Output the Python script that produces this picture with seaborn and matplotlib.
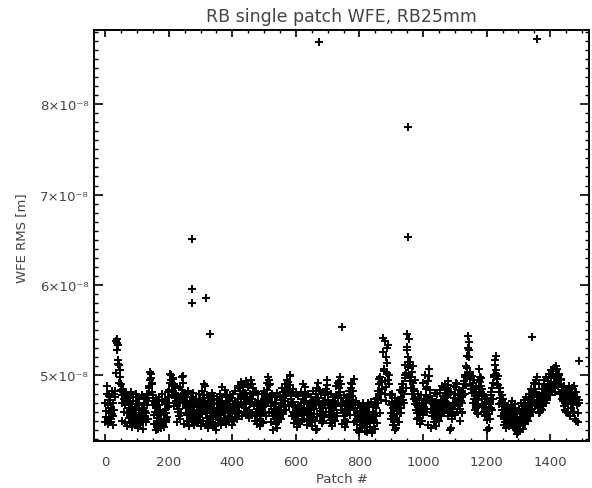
import numpy as np
import pandas as pd
import matplotlib
matplotlib.use("Agg")
import matplotlib.pyplot as plt
import seaborn as sns
from matplotlib.ticker import FixedLocator, MultipleLocator

# ---------------- data (WFE RMS in units of 1e-8 m) ----------------
# main sequence: every 2nd patch, one list per ~100 patches
seg_starts = [0, 94, 192, 291, 389, 488, 586, 685, 783, 882, 980, 1079, 1177, 1276, 1374, 1473]

seg00 = [4.70,4.54,4.61,4.88,4.67,4.50,4.59,4.73,4.52,4.64,4.48,4.57,4.69,4.55,4.62,4.76,4.83,5.03,5.36,5.40,
         5.34,5.17,5.11,5.06,4.98,4.90,4.78,4.70,4.82,4.74,4.60,4.78,4.67,4.81,4.72,4.59,4.75,4.64,4.53,4.70,
         4.58,4.49,4.65,4.56,4.72,4.51,4.62,4.55,4.68,4.50]
seg01 = [4.64,4.52,4.59,4.47,4.67,4.55,4.50,4.62,4.45,4.57,4.53,4.64,4.48,4.59,4.70,4.54,4.61,4.74,4.58,4.67,
         4.80,4.72,4.86,4.95,5.04,4.97,4.91,4.82,4.75,4.67,4.56,4.70,4.60,4.46,4.64,4.53,4.41,4.58,4.67,4.51,
         4.62,4.56,4.72,4.49,4.60,4.43,4.57,4.68,4.52,4.63]
seg02 = [4.59,4.70,4.54,4.65,4.76,4.84,4.92,5.00,4.95,4.89,4.97,4.83,4.91,4.78,4.86,4.72,4.80,4.67,4.60,4.74,
         4.63,4.52,4.69,4.58,4.75,4.84,4.92,4.99,4.81,4.70,4.77,4.64,4.56,4.71,4.59,4.67,4.50,4.61,4.72,4.55,
         4.66,4.58,4.74,4.62,4.53,4.68,4.59,4.48,4.65,4.56]
seg03 = [4.67,4.54,4.62,4.73,4.51,4.60,4.69,4.57,4.75,4.64,4.78,4.88,4.70,4.59,4.66,4.53,4.62,4.72,4.49,4.58,
         4.67,4.55,4.73,4.63,4.52,4.61,4.70,4.57,4.45,4.60,4.68,4.54,4.64,4.51,4.59,4.70,4.56,4.65,4.87,4.72,
         4.61,4.53,4.67,4.58,4.50,4.63,4.69,4.55,4.62,4.74]
seg04 = [4.60,4.68,4.53,4.64,4.75,4.57,4.66,4.51,4.62,4.72,4.59,4.67,4.54,4.70,4.61,4.74,4.65,4.80,4.86,4.71,
         4.90,4.78,4.67,4.83,4.74,4.64,4.81,4.70,4.59,4.76,4.87,4.72,4.62,4.79,4.68,4.57,4.74,4.91,4.78,4.66,
         4.82,4.71,4.60,4.69,4.55,4.63,4.72,4.58,4.67,4.52]
seg05 = [4.64,4.56,4.70,4.60,4.49,4.65,4.74,4.58,4.67,4.80,4.69,4.84,4.73,4.89,4.95,4.91,4.77,4.66,4.59,4.71,
         4.55,4.63,4.52,4.68,4.59,4.70,4.78,4.42,4.56,4.65,4.53,4.62,4.73,4.60,4.69,4.57,4.76,4.67,4.82,4.72,
         4.86,4.78,4.90,4.81,4.93,4.85,4.99,4.89,4.82,4.74]
seg06 = [4.77,4.68,4.60,4.71,4.57,4.65,4.53,4.62,4.50,4.59,4.67,4.55,4.64,4.48,4.58,4.69,4.56,4.63,4.74,4.61,
         4.70,4.79,4.87,4.72,4.64,4.56,4.68,4.59,4.50,4.62,4.71,4.58,4.66,4.54,4.73,4.63,4.52,4.69,4.80,4.67,
         4.41,4.57,4.75,4.84,4.70,4.61,4.68,4.55,4.64,4.72]
seg07 = [4.59,4.67,4.54,4.70,4.78,4.85,4.89,4.82,4.73,4.64,4.56,4.68,4.51,4.60,4.69,4.57,4.65,4.53,4.62,4.72,
         4.78,4.66,4.58,4.69,4.77,4.86,4.94,4.82,4.90,4.75,4.67,4.59,4.70,4.55,4.63,4.51,4.61,4.72,4.58,4.66,
         4.75,4.62,4.80,4.70,4.86,4.77,4.91,4.83,4.72,4.64]
seg08 = [4.70,4.56,4.64,4.50,4.59,4.48,4.57,4.67,4.53,4.45,4.60,4.51,4.42,4.58,4.49,4.64,4.54,4.46,4.61,4.52,
         4.43,4.56,4.65,4.50,4.59,4.47,4.54,4.40,4.37,4.51,4.60,4.48,4.57,4.68,4.55,4.64,4.75,4.83,4.70,4.96,
         4.90,4.98,4.81,4.73,4.85,5.26,5.41,5.07,4.94,4.79]
seg09 = [4.87,4.72,5.03,5.14,5.34,5.01,4.90,4.78,4.67,4.59,4.70,4.55,4.64,4.50,4.61,4.40,4.53,4.65,4.57,4.48,
         4.62,4.71,4.58,4.67,4.76,4.64,4.82,4.73,4.90,4.80,4.97,5.11,5.03,5.31,5.46,5.20,5.09,5.00,5.15,4.94,
         4.86,5.04,4.80,4.92,4.74,4.83,4.68,4.76,4.62,4.70]
seg10 = [4.59,4.67,4.53,4.62,4.73,4.58,4.66,4.50,4.61,4.70,4.56,4.65,4.74,4.60,4.69,4.78,4.87,4.75,4.94,5.07,
         4.99,4.84,4.72,4.63,4.55,4.68,4.59,4.49,4.64,4.54,4.62,4.71,4.57,4.66,4.52,4.61,4.69,4.56,4.64,4.73,
         4.60,4.68,4.77,4.65,4.72,4.81,4.70,4.86,4.76,4.89]
seg11 = [4.78,4.67,4.82,4.60,4.42,4.64,4.56,4.70,4.59,4.75,4.66,4.80,4.71,4.87,4.91,4.78,4.68,4.84,4.74,4.63,
         4.72,4.60,4.69,4.78,4.86,4.94,4.80,5.01,4.90,5.08,5.21,5.44,5.37,5.28,5.04,4.96,4.88,4.99,4.81,4.92,
         4.74,4.85,4.70,4.78,4.64,4.73,4.59,4.68,4.80,4.88]
seg12 = [5.07,4.93,4.82,4.97,4.74,4.85,4.67,4.77,4.60,4.69,4.56,4.65,4.51,4.61,4.72,4.42,4.57,4.68,4.78,4.64,
         4.86,4.74,4.92,5.01,5.11,5.17,5.22,5.06,4.96,4.89,4.99,4.82,4.75,4.86,4.70,4.78,4.62,4.55,4.67,4.52,
         4.60,4.48,4.57,4.65,4.51,4.59,4.46,4.56,4.64,4.50]
seg13 = [4.58,4.66,4.52,4.61,4.47,4.56,4.64,4.50,4.59,4.45,4.54,4.40,4.38,4.51,4.60,4.48,4.57,4.66,4.53,4.62,
         4.49,4.58,4.67,4.55,4.63,4.52,4.61,4.70,4.57,4.65,4.74,4.62,4.71,4.80,4.68,4.76,4.85,4.73,4.90,4.95,
         4.82,4.70,4.78,4.64,4.73,4.59,4.68,4.77,4.63,4.72]
seg14 = [4.80,4.67,4.85,4.74,4.90,4.79,4.69,4.83,4.73,4.88,4.94,4.81,4.91,4.78,4.97,4.86,5.00,4.89,5.02,4.92,
         4.82,4.98,5.05,4.94,5.07,4.99,4.88,5.01,4.91,4.80,4.96,4.84,4.74,4.87,4.77,4.66,4.80,4.70,4.60,4.74,
         4.83,4.68,4.78,4.88,4.72,4.81,4.64,4.75,4.86,4.69]
seg15 = [4.78,4.60,4.71,4.82,4.50,4.67,4.76,4.58,4.73]

# secondary sequence: every 4th patch (odd patches), same ~100-patch blocks
ext00 = [4.48,4.80,4.46,4.77,4.52,4.83,4.45,4.79,5.38,5.28,5.13,4.92,4.84,4.50,4.85,4.47,4.81,4.44,4.78,4.49,
         4.82,4.43,4.76,4.47,4.80]
ext01 = [4.45,4.76,4.42,4.74,4.47,4.78,4.41,4.75,4.48,4.80,4.52,4.88,5.02,4.92,4.78,4.46,4.40,4.73,4.44,4.76,
         4.42,4.79,4.45,4.74,4.48]
ext02 = [4.50,4.82,4.70,5.02,4.78,4.96,4.66,4.88,4.48,4.77,4.55,4.87,4.98,4.70,4.46,4.79,4.50,4.83,4.44,4.76,
         4.49,4.81,4.45,4.74,4.47]
ext03 = [4.47,4.79,4.44,4.83,4.50,4.90,4.46,4.78,4.42,4.75,4.48,4.81,4.43,4.77,4.40,4.74,4.47,4.80,4.45,4.76,
         4.49,4.84,4.46,4.78,4.50]
ext04 = [4.48,4.78,4.45,4.80,4.50,4.83,4.52,4.88,4.58,4.93,4.55,4.90,4.60,4.94,4.56,4.89,4.53,4.95,4.57,4.86,
         4.50,4.82,4.46,4.79,4.44]
ext05 = [4.50,4.79,4.47,4.83,4.55,4.92,4.98,4.60,4.48,4.80,4.40,4.76,4.46,4.81,4.49,4.78,4.52,4.86,4.58,4.90,
         4.62,4.95,4.66,5.00,4.70]
ext06 = [4.55,4.85,4.47,4.80,4.43,4.77,4.46,4.82,4.50,4.90,4.52,4.78,4.45,4.80,4.48,4.76,4.44,4.83,4.50,4.40,
         4.86,4.92,4.55,4.79,4.47]
ext07 = [4.50,4.82,4.60,4.95,4.70,4.47,4.79,4.44,4.76,4.50,4.88,4.55,4.92,4.98,4.62,4.46,4.78,4.43,4.75,4.49,
         4.83,4.56,4.92,4.68,4.96]
ext08 = [4.48,4.72,4.40,4.68,4.38,4.66,4.42,4.70,4.39,4.64,4.37,4.69,4.43,4.71,4.36,4.67,4.41,4.74,4.47,4.80,
         4.58,4.93,4.85,5.05,5.38]
ext09 = [5.20,5.30,4.95,4.78,4.52,4.80,4.45,4.75,4.42,4.72,4.48,4.84,4.58,4.90,4.70,5.00,4.86,5.28,5.40,5.12,
         4.98,5.10,4.85,4.95,4.72]
ext10 = [4.52,4.80,4.46,4.78,4.50,4.92,5.00,4.85,4.60,4.45,4.77,4.42,4.74,4.48,4.81,4.44,4.79,4.50,4.84,4.55,
         4.88,4.58,4.90,4.62,4.94]
ext11 = [4.55,4.40,4.82,4.52,4.88,4.56,4.92,4.60,4.84,4.50,4.80,4.58,4.90,4.98,5.10,5.30,5.20,5.02,4.85,4.70,
         4.95,4.62,4.86,4.57,4.95]
ext12 = [4.98,4.88,4.65,4.80,4.55,4.75,4.40,4.70,4.52,4.82,4.62,4.98,5.12,5.02,4.90,4.68,4.82,4.55,4.74,4.45,
         4.70,4.42,4.66,4.44,4.62]
ext13 = [4.46,4.72,4.42,4.68,4.40,4.35,4.62,4.44,4.70,4.41,4.73,4.46,4.76,4.50,4.80,4.55,4.85,4.60,4.92,4.66,
         4.98,4.72,4.90,4.60,4.85]
ext14 = [4.62,4.95,4.70,4.98,4.75,5.02,4.78,5.06,4.84,5.08,4.86,5.10,4.90,5.02,4.80,4.95,4.72,4.88,4.62,4.82,
         4.58,4.80,4.55,4.86,4.60]
ext15 = [4.88,4.52,4.82,4.48,4.70]

segments = [seg00, seg01, seg02, seg03, seg04, seg05, seg06, seg07,
            seg08, seg09, seg10, seg11, seg12, seg13, seg14, seg15]
extras = [ext00, ext01, ext02, ext03, ext04, ext05, ext06, ext07,
          ext08, ext09, ext10, ext11, ext12, ext13, ext14, ext15]

# isolated outliers (patch number, WFE in 1e-8 m)
out_patch = [274, 274, 274, 318, 330, 673, 745, 953, 953, 1343, 1358, 1490]
out_wfe   = [6.51, 5.96, 5.80, 5.86, 5.46, 8.69, 5.54, 7.75, 6.53, 5.43, 8.72, 5.16]

# ---------------- assemble table ----------------
xs, ys = [], []
for start, seg in zip(seg_starts, segments):
    xs.extend(start + 2 * np.arange(len(seg)))
    ys.extend(seg)
for start, seg in zip(seg_starts, extras):
    xs.extend(start + 1 + 4 * np.arange(len(seg)))
    ys.extend(seg)
xs.extend(out_patch)
ys.extend(out_wfe)
df = pd.DataFrame({"patch": np.array(xs, dtype=float),
                   "wfe": np.array(ys) * 1e-8})

# ---------------- figure ----------------
sns.set_style("ticks")
plt.rcParams["font.family"] = ["DejaVu Sans"]
W, H = 592, 489
fig = plt.figure(figsize=(W / 100, H / 100), dpi=100)
L, R, T, B = 94, 589, 31, 442
ax = fig.add_axes([L / W, 1 - B / H, (R - L) / W, (B - T) / H])

sns.scatterplot(data=df, x="patch", y="wfe", marker="+", color="black",
                s=30, linewidth=1.4, ax=ax, legend=False)

ax.set_xlim(-35, 1522)
ax.set_ylim(4.275e-8, 8.82e-8)

ax.xaxis.set_major_locator(FixedLocator([0, 200, 400, 600, 800, 1000, 1200, 1400]))
ax.xaxis.set_minor_locator(MultipleLocator(50))
ax.set_xticklabels(["0", "200", "400", "600", "800", "1000", "1200", "1400"])
yt = [5e-8, 6e-8, 7e-8, 8e-8]
ax.yaxis.set_major_locator(FixedLocator(yt))
ax.yaxis.set_minor_locator(MultipleLocator(1e-9))
ax.set_yticklabels(["5\u00d710\u207b\u2078", "6\u00d710\u207b\u2078",
                    "7\u00d710\u207b\u2078", "8\u00d710\u207b\u2078"])

txt = "#444444"
ax.tick_params(which="both", direction="in", top=True, right=True,
               labeltop=False, labelright=False, color="black")
ax.tick_params(axis="x", which="major", length=5, width=1.2, pad=10,
               labelsize=9.5, labelcolor=txt)
ax.tick_params(axis="x", which="minor", length=2.5, width=1.0)
ax.tick_params(axis="y", which="major", length=6.5, width=1.2, pad=4,
               labelsize=9.5, labelcolor=txt)
ax.tick_params(axis="y", which="minor", length=2.8, width=1.0)
for sp in ax.spines.values():
    sp.set_linewidth(1.4)
    sp.set_color("black")
    sp.set_visible(True)

ax.set_xlabel("")
ax.set_ylabel("")
fig.text((L + R) / 2 / W, 1 - 22 / H, "RB single patch WFE, RB25mm",
         ha="center", va="baseline", fontsize=12.5, color=txt)
fig.text((L + R) / 2 / W, 1 - 483 / H, "Patch #",
         ha="center", va="baseline", fontsize=9.5, color=txt)
fig.text(22 / W, 1 - 238 / H, "WFE RMS [m]", rotation=90,
         ha="center", va="center", fontsize=9.5, color=txt)

fig.savefig("out.png", dpi=100)
